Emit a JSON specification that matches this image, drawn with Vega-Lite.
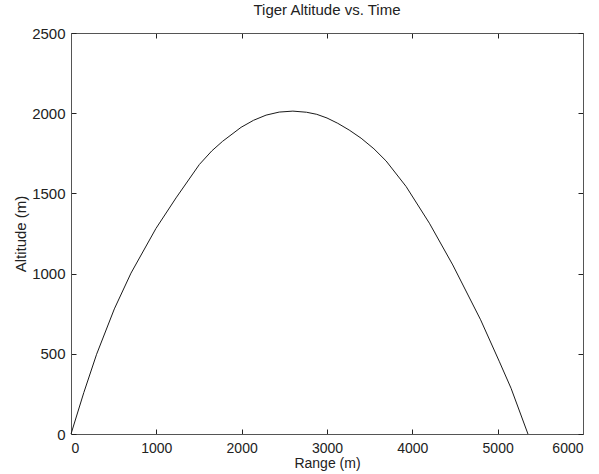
{
  "$schema": "https://vega.github.io/schema/vega-lite/v6.json",
  "autosize": {"type": "none"},
  "padding": {"left": 71, "top": 33, "right": 16, "bottom": 40},
  "width": 512,
  "height": 401,
  "background": "white",
  "title": {"text": "Tiger Altitude vs. Time", "font": "Liberation Sans", "fontSize": 15, "fontWeight": "normal", "color": "#222", "offset": 8},
  "config": {
    "view": {"stroke": null},
    "axis": {"labelFont": "Liberation Sans", "titleFont": "Liberation Sans", "labelFontSize": 15, "titleFontSize": 15, "titleFontWeight": "normal", "labelColor": "#222", "titleColor": "#222", "domainColor": "#555", "tickColor": "#222", "grid": false, "tickSize": -5, "format": "d"}
  },
  "data": {"values": [
    {"range": 0, "alt": 0},
    {"range": 150, "alt": 258},
    {"range": 300, "alt": 497},
    {"range": 508, "alt": 780},
    {"range": 703, "alt": 1003},
    {"range": 995, "alt": 1281},
    {"range": 1231, "alt": 1472},
    {"range": 1504, "alt": 1680},
    {"range": 1650, "alt": 1765},
    {"range": 1777, "alt": 1825},
    {"range": 1993, "alt": 1912},
    {"range": 2140, "alt": 1956},
    {"range": 2286, "alt": 1988},
    {"range": 2440, "alt": 2007},
    {"range": 2600, "alt": 2013},
    {"range": 2760, "alt": 2006},
    {"range": 2880, "alt": 1993},
    {"range": 3000, "alt": 1970},
    {"range": 3126, "alt": 1937},
    {"range": 3260, "alt": 1895},
    {"range": 3400, "alt": 1844},
    {"range": 3550, "alt": 1778},
    {"range": 3693, "alt": 1702},
    {"range": 3927, "alt": 1543},
    {"range": 4200, "alt": 1314},
    {"range": 4474, "alt": 1054},
    {"range": 4800, "alt": 712},
    {"range": 5021, "alt": 450},
    {"range": 5157, "alt": 285},
    {"range": 5355, "alt": 0}
  ]},
  "layer": [
    {
      "mark": {"type": "line", "color": "#1a1a1a", "strokeWidth": 1},
      "encoding": {
        "x": {"field": "range", "type": "quantitative", "scale": {"domain": [0, 6000], "nice": false, "zero": false}, "axis": {"title": "Range (m)", "values": [0, 1000, 2000, 3000, 4000, 5000, 6000], "labelPadding": 12, "labelFontSize": 14, "titleFontSize": 14, "titlePadding": 1, "orient": "bottom"}},
        "y": {"field": "alt", "type": "quantitative", "scale": {"domain": [0, 2500], "nice": false, "zero": false}, "axis": {"title": "Altitude (m)", "values": [0, 500, 1000, 1500, 2000, 2500], "labelPadding": 11, "titlePadding": 3, "orient": "left"}}
      }
    },
    {
      "mark": {"type": "line", "opacity": 0},
      "encoding": {
        "x": {"field": "range", "type": "quantitative", "axis": {"orient": "top", "title": null, "labels": false, "values": [0, 1000, 2000, 3000, 4000, 5000, 6000]}},
        "y": {"field": "alt", "type": "quantitative", "axis": {"orient": "right", "title": null, "labels": false, "values": [0, 500, 1000, 1500, 2000, 2500]}}
      }
    }
  ],
  "resolve": {"axis": {"x": "independent", "y": "independent"}}
}
